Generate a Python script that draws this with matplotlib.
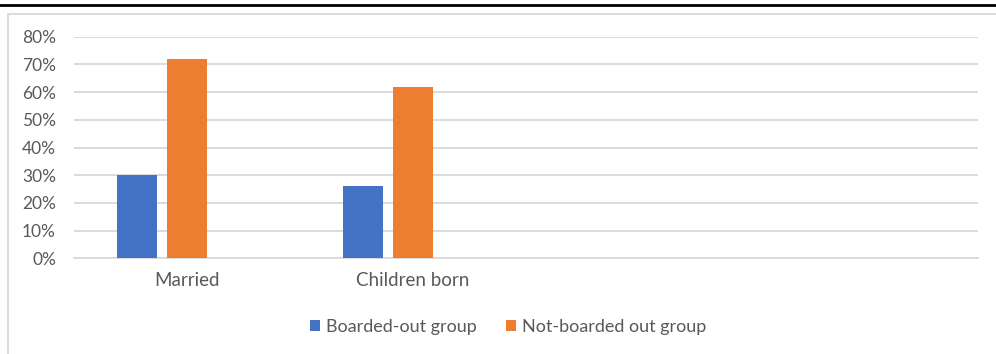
import matplotlib
matplotlib.use("Agg")
import matplotlib.pyplot as plt
from matplotlib.patches import Rectangle
from matplotlib.lines import Line2D
import numpy as np

# data
categories = ["Married", "Children born", "", ""]
boarded_out = [0.30, 0.26]
not_boarded_out = [0.72, 0.62]
series_names = ["Boarded-out group", "Not-boarded out group"]
yticks = [0, 0.1, 0.2, 0.3, 0.4, 0.5, 0.6, 0.7, 0.8]

blue = "#4472C4"
orange = "#ED7D31"
grey_text = "#595959"
grid_col = "#D9D9D9"

plt.rcParams["font.family"] = ["Lato", "DejaVu Sans"]

W, H = 996, 354
fig = plt.figure(figsize=(W / 100, H / 100), dpi=100)

# outer chart frame and the document rule above it
fig.add_artist(Rectangle((8 / W, -0.05), 1.0, 1 - 13.5 / H + 0.05,
                         transform=fig.transFigure, fill=False,
                         edgecolor="#D9D9D9", linewidth=1.3))
fig.add_artist(Line2D([0, 1], [1 - 5 / H, 1 - 5 / H], transform=fig.transFigure,
                      color="black", linewidth=2.0))

ax = fig.add_axes([74 / W, 1 - 258.3 / H, (978 - 74) / W, (258.3 - 36.7) / H])

x = np.arange(len(boarded_out))
bw = 40 / 226
step = 50 / 226
ax.bar(x - step, boarded_out, width=bw, color=blue, label=series_names[0], zorder=3)
ax.bar(x, not_boarded_out, width=bw, color=orange, label=series_names[1], zorder=3)

ax.set_xlim(-0.5, len(categories) - 0.5)
ax.set_ylim(0, 0.8)
ax.set_yticks(yticks)
ax.set_yticklabels([f"{int(round(t * 100))}%" for t in yticks])
ax.set_xticks(np.arange(len(categories)))
ax.set_xticklabels(categories)

ax.grid(axis="y", color=grid_col, linewidth=1.3, zorder=0)
for s in ["top", "right", "left"]:
    ax.spines[s].set_visible(False)
ax.spines["bottom"].set_color(grid_col)
ax.spines["bottom"].set_linewidth(1.3)
ax.tick_params(axis="both", length=0, colors=grey_text)
ax.tick_params(axis="y", pad=13, labelsize=12.5)
ax.tick_params(axis="x", pad=10, labelsize=13.5)

fig.legend(loc="center", bbox_to_anchor=(508 / W, 1 - 327 / H), ncol=2,
           frameon=False, fontsize=13, labelcolor=grey_text,
           handlelength=0.55, handleheight=0.55, handletextpad=0.35,
           columnspacing=1.6)

fig.savefig("out.png", dpi=100)
